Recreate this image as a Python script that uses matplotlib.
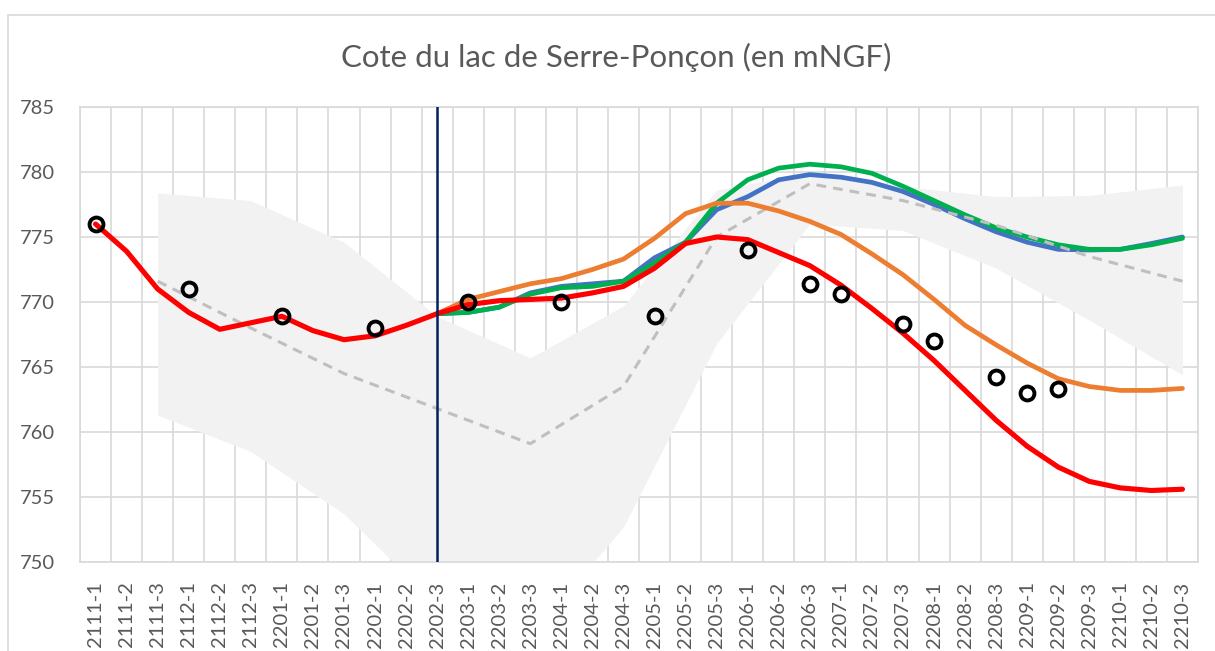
import matplotlib
matplotlib.use("Agg")
import matplotlib.pyplot as plt
import numpy as np
from matplotlib.patches import Rectangle

plt.rcParams['font.family'] = ['Lato', 'DejaVu Sans']

# ---------------- data ----------------
categories = ['2111-1', '2111-2', '2111-3', '2112-1', '2112-2', '2112-3',
              '2201-1', '2201-2', '2201-3', '2202-1', '2202-2', '2202-3',
              '2203-1', '2203-2', '2203-3', '2204-1', '2204-2', '2204-3',
              '2205-1', '2205-2', '2205-3', '2206-1', '2206-2', '2206-3',
              '2207-1', '2207-2', '2207-3', '2208-1', '2208-2', '2208-3',
              '2209-1', '2209-2', '2209-3', '2210-1', '2210-2', '2210-3']

# red: history then low scenario
red_values = [776.0, 773.9, 771.0, 769.2, 767.9, 768.4, 768.9, 767.8, 767.1, 767.4,
              768.2, 769.1, 769.8, 770.1, 770.2, 770.3, 770.7, 771.2, 772.6, 774.5,
              775.0, 774.8, 773.8, 772.8, 771.3, 769.5, 767.6, 765.5, 763.2, 760.9,
              758.9, 757.3, 756.2, 755.7, 755.5, 755.6]

forecast_start = '2202-3'
orange_values = [769.1, 770.2, 770.8, 771.4, 771.8, 772.5, 773.3, 774.9, 776.8, 777.6,
                 777.6, 777.0, 776.2, 775.2, 773.7, 772.1, 770.2, 768.2, 766.7, 765.3,
                 764.1, 763.5, 763.2, 763.2, 763.35]
green_values = [769.1, 769.2, 769.6, 770.6, 771.1, 771.2, 771.6, 773.0, 774.6, 777.6,
                779.4, 780.3, 780.6, 780.4, 779.9, 778.9, 777.8, 776.7, 775.7, 775.0,
                774.4, 774.05, 774.05, 774.4, 774.9]
blue_values = [769.1, 769.2, 769.6, 770.7, 771.2, 771.4, 771.6, 773.4, 774.6, 777.1,
               778.1, 779.4, 779.8, 779.6, 779.2, 778.5, 777.5, 776.4, 775.4, 774.6,
               774.05, 774.0, 774.05, 774.5, 775.0]

# observed levels (circles)
obs_cats = ['2111-1', '2112-1', '2201-1', '2202-1', '2203-1', '2204-1', '2205-1',
            '2206-1', '2206-3', '2207-1', '2207-3', '2208-1', '2208-3', '2209-1', '2209-2']
obs_values = [776.0, 771.0, 768.9, 768.0, 770.0, 770.0, 768.9,
              774.0, 771.4, 770.6, 768.3, 767.0, 764.2, 763.0, 763.3]

# monthly statistics (end of month)
band_cats = ['2111-3', '2112-3', '2201-3', '2202-3', '2203-3', '2204-3',
             '2205-3', '2206-3', '2207-3', '2208-3', '2209-3', '2210-3']
median_values = [771.6, 768.0, 764.5, 761.8, 759.1, 763.5, 775.0, 779.1, 777.8, 775.9, 773.5, 771.6]
band_upper = [778.4, 777.8, 774.6, 768.9, 765.7, 769.7, 778.6, 780.0, 778.9, 778.1, 778.2, 779.0]
band_lower = [761.3, 758.5, 753.7, 746.7, 744.3, 752.7, 766.8, 776.0, 775.5, 772.6, 768.6, 764.4]

title = 'Cote du lac de Serre-Ponçon (en mNGF)'

# ---------------- figure ----------------
W, H = 1215, 651
fig = plt.figure(figsize=(W / 100, H / 100), dpi=100)
ax = fig.add_axes([80 / W, 1 - 562 / H, (1198 - 80) / W, (562 - 107) / H])

x_all = np.arange(len(categories))
pos = {c: i for i, c in enumerate(categories)}
x_band = [pos[c] for c in band_cats]
i0 = pos[forecast_start]
x_fc = x_all[i0:i0 + len(orange_values)]
x_obs = [pos[c] for c in obs_cats]

grey_txt = '#595959'
grid_c = '#D9D9D9'

ax.fill_between(x_band, band_lower, band_upper, color='#F2F2F2', lw=0, zorder=1)
ax.plot(x_fc, blue_values, color='#4472C4', lw=3.4, zorder=3, solid_capstyle='round')
ax.plot(x_fc, green_values, color='#00B050', lw=3.4, zorder=4, solid_capstyle='round')
ax.plot(x_band, median_values, color='#BFBFBF', lw=2.2, ls=(0, (3.2, 2.3)), zorder=4.5)
ax.plot(x_fc, orange_values, color='#ED7D31', lw=3.4, zorder=5, solid_capstyle='round')
ax.plot(x_all, red_values, color='#FF0000', lw=3.7, zorder=6, solid_capstyle='round')
ax.plot(x_obs, obs_values, ls='none', marker='o', ms=10, mfc='none', mec='black',
        mew=2.8, zorder=7)
ax.axvline(i0, color='#002060', lw=1.8, zorder=6.5)

ax.set_xlim(-0.5, len(categories) - 0.5)
ax.set_ylim(750, 785)
ax.set_yticks(np.arange(750, 786, 5))
ax.set_xticks(x_all)
ax.set_xticklabels(categories, rotation=90, fontsize=14.5, color=grey_txt)
ax.set_xticks(np.arange(-0.5, len(categories), 1), minor=True)
ax.tick_params(axis='x', which='both', length=0, pad=14)
ax.tick_params(axis='y', length=0, pad=18, labelsize=14.5, labelcolor=grey_txt)
ax.grid(axis='y', which='major', color=grid_c, lw=1.2, zorder=0)
ax.grid(axis='x', which='minor', color=grid_c, lw=1.2, zorder=0)
ax.grid(axis='x', which='major', visible=False)
ax.set_axisbelow(True)
for s in ax.spines.values():
    s.set_color(grid_c)
    s.set_linewidth(1.2)

fig.text(616 / W, 1 - 57 / H, title, ha='center', va='center', fontsize=22.5, color=grey_txt)

# chart area border
fig.patches.append(Rectangle((8 / W, -0.1), 1.2, 1 - 15 / H + 0.1, transform=fig.transFigure,
                             fill=False, edgecolor=grid_c, lw=1.2))

fig.savefig('out.png', dpi=100)
